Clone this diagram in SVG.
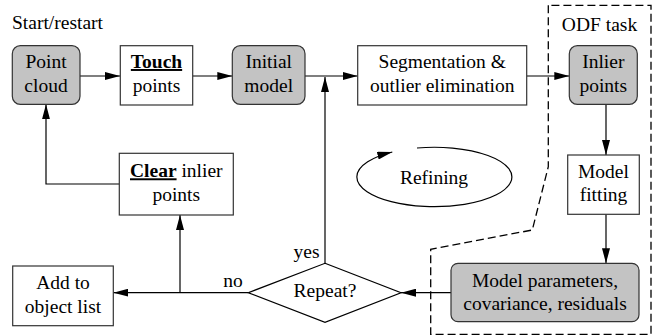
<svg xmlns="http://www.w3.org/2000/svg" width="672" height="336" viewBox="0 0 672 336">
<defs>
<marker id="ah" markerUnits="userSpaceOnUse" markerWidth="16" markerHeight="8" refX="15" refY="4" orient="auto">
<path d="M0,0 L15,4 L0,8 Z" fill="#000"/>
</marker>
<style>
text{font-family:"Liberation Serif","Times New Roman",serif;font-size:19.5px;fill:#000;text-anchor:middle}
.box{fill:#fff;stroke:#333;stroke-width:1.2}
.gbox{fill:#c3c3c3;stroke:#333;stroke-width:1.2}
.c{fill:none;stroke:#000;stroke-width:1.2}
.b{font-weight:bold;text-decoration:underline}
</style>
</defs>
<rect width="672" height="336" fill="#fff"/>
<g id="odf-region">
<path d="M548.3,5.3 L548.3,166.7 L532.3,230 L430.7,249.3 L430.7,334.3 L651,334.3 L651,5.3 Z" fill="none" stroke="#000" stroke-width="1.3" stroke-dasharray="8,4"/>
<text x="599.5" y="31">ODF task</text>
</g>
<text x="12" y="29" style="text-anchor:start">Start/restart</text>
<g id="connectors">
<path class="c" d="M80,76 L120,76" marker-end="url(#ah)"/>
<path class="c" d="M192.7,76 L232.3,76" marker-end="url(#ah)"/>
<path class="c" d="M305,76 L357.7,76" marker-end="url(#ah)"/>
<path class="c" d="M526.7,76 L569.3,76" marker-end="url(#ah)"/>
<path class="c" d="M606,104.3 L606,155" marker-end="url(#ah)"/>
<path class="c" d="M606,214.3 L606,263.3" marker-end="url(#ah)"/>
<path class="c" d="M451,292.7 L401,292.7" marker-end="url(#ah)"/>
<path class="c" d="M325,263.3 L325,77" marker-end="url(#ah)"/>
<path class="c" d="M248.3,292.7 L113.3,292.7" marker-end="url(#ah)"/>
<path class="c" d="M180,292.7 L180,215" marker-end="url(#ah)"/>
<path class="c" d="M119.3,184 L46,184 L46,104.3" marker-end="url(#ah)"/>
<text x="306.5" y="258.3">yes</text>
<text x="233" y="286.7">no</text>
</g>
<g id="refining">
<path class="c" d="M417,148 A77.5,29.7 0 1 1 392.3,152" marker-end="url(#ah)"/>
<text x="434" y="184">Refining</text>
</g>
<g id="point-cloud">
<rect class="gbox" x="12.3" y="45.7" width="67.7" height="58.6" rx="8"/>
<text x="46" y="68">Point</text>
<text x="46" y="92">cloud</text>
</g>
<g id="touch-points">
<rect class="box" x="120.3" y="45.7" width="72.4" height="59.3"/>
<text x="156.5" y="68" class="b">Touch</text>
<text x="156.5" y="92">points</text>
</g>
<g id="initial-model">
<rect class="gbox" x="232.3" y="45.7" width="72.7" height="58.6" rx="8"/>
<text x="268.7" y="68">Initial</text>
<text x="268.7" y="92">model</text>
</g>
<g id="segmentation">
<rect class="box" x="357.7" y="45.7" width="169" height="59.3"/>
<text x="442.2" y="68">Segmentation &amp;</text>
<text x="442.2" y="92">outlier elimination</text>
</g>
<g id="inlier-points">
<rect class="gbox" x="569.3" y="45.7" width="68" height="58.6" rx="8"/>
<text x="603.3" y="68">Inlier</text>
<text x="603.3" y="92">points</text>
</g>
<g id="model-fitting">
<rect class="box" x="567.7" y="155" width="71.6" height="59.3"/>
<text x="603.5" y="177.7">Model</text>
<text x="603.5" y="201">fitting</text>
</g>
<g id="model-parameters">
<rect class="gbox" x="451" y="263.3" width="188" height="58.4" rx="7"/>
<text x="545" y="286.5">Model parameters,</text>
<text x="545" y="309.5">covariance, residuals</text>
</g>
<g id="repeat">
<path d="M325,263.3 L401,292.7 L325,322.3 L248.3,292.7 Z" fill="#fff" stroke="#000" stroke-width="1.2"/>
<text x="325" y="297">Repeat?</text>
</g>
<g id="clear-inlier">
<rect class="box" x="119.3" y="153.3" width="114" height="61.7"/>
<text x="176.3" y="177.3"><tspan class="b">Clear</tspan> inlier</text>
<text x="176.3" y="201">points</text>
</g>
<g id="add-object">
<rect class="box" x="12.7" y="266" width="100.6" height="59.7"/>
<text x="63" y="289.3">Add to</text>
<text x="63" y="312.7">object list</text>
</g>
</svg>
